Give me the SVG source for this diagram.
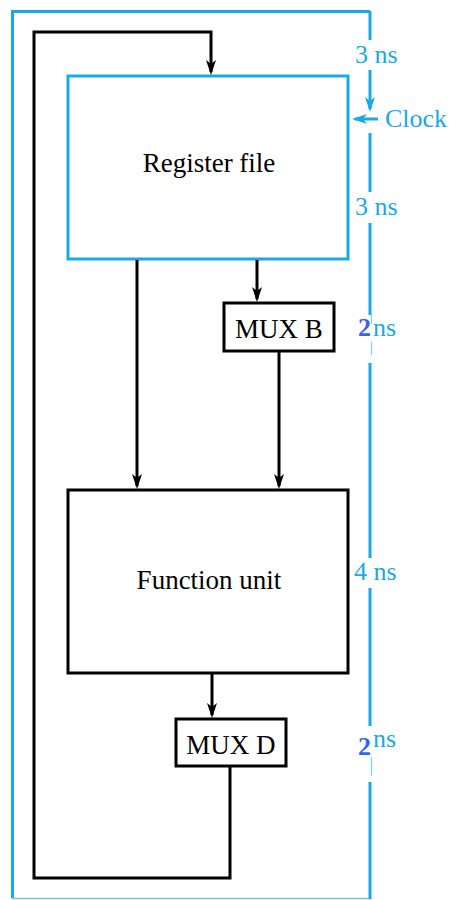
<svg xmlns="http://www.w3.org/2000/svg" width="450" height="900" viewBox="0 0 450 900">
  <style>
    .lbl { font-family: "Liberation Serif", "Times New Roman", serif; font-size: 27px; fill: #000; text-anchor: middle; }
    .t { font-family: "Liberation Serif", "Times New Roman", serif; font-size: 26px; fill: #1aa9e6; }
    .b2 { font-family: "Liberation Serif", "Times New Roman", serif; font-size: 26px; font-weight: bold; fill: #3563f2; }
    .cy { stroke: #1aa9e6; stroke-width: 3; fill: none; }
    .cythin { stroke: #7fd0f2; stroke-width: 1.2; fill: none; }
    .wire { stroke: #000; stroke-width: 3; fill: none; }
  </style>
  <defs>
    <marker id="ah" viewBox="-13 -6 16 12" markerWidth="16" markerHeight="12" refX="0" refY="0" orient="auto" markerUnits="userSpaceOnUse">
      <path d="M3,0 L-12,-5 L-8,0 L-12,5 Z" fill="#000"/>
    </marker>
    <marker id="ahc" viewBox="-13 -6 16 12" markerWidth="16" markerHeight="12" refX="0" refY="0" orient="auto" markerUnits="userSpaceOnUse">
      <path d="M3,0 L-12,-5 L-8,0 L-12,5 Z" fill="#1aa9e6"/>
    </marker>
  </defs>

  <g id="frame">
    <path class="cy" d="M370,11.5 H12.5 V898"/>
    <line x1="12" y1="898.5" x2="371" y2="898.5" stroke="#6cc6ee" stroke-width="1.5"/>
  </g>

  <g id="timing">
    <line class="cy" x1="370" y1="11" x2="370" y2="40"/>
    <line class="cy" x1="370" y1="70" x2="370" y2="109" marker-end="url(#ahc)"/>
    <line class="cy" x1="378" y1="119" x2="355" y2="119" stroke-width="2" marker-end="url(#ahc)"/>
    <line class="cy" x1="370" y1="133" x2="370" y2="192"/>
    <line class="cy" x1="370" y1="223" x2="370" y2="315"/>
    <line class="cythin" x1="371.5" y1="315" x2="371.5" y2="324"/>
    <line class="cythin" x1="371.5" y1="342" x2="371.5" y2="355"/>
    <line class="cy" x1="370" y1="363" x2="370" y2="558"/>
    <line class="cy" x1="370" y1="588" x2="370" y2="726"/>
    <line class="cythin" x1="371.5" y1="757" x2="371.5" y2="776"/>
    <line class="cy" x1="370" y1="782" x2="370" y2="899"/>
    <text class="t" x="355" y="63">3 ns</text>
    <text class="t" x="385" y="127">Clock</text>
    <text class="t" x="355" y="215">3 ns</text>
    <text class="b2" x="358" y="336">2</text>
    <text class="t" x="373" y="336">ns</text>
    <text class="t" x="354" y="580">4 ns</text>
    <text class="b2" x="358" y="755">2</text>
    <text class="t" x="373" y="747">ns</text>
  </g>

  <g id="register-file">
    <rect x="68" y="76" width="280" height="183" fill="none" stroke="#1aa9e6" stroke-width="3"/>
    <text class="lbl" x="209" y="172">Register file</text>
  </g>

  <g id="mux-b">
    <rect x="224" y="303" width="110" height="48" fill="#fff" stroke="#000" stroke-width="3"/>
    <text class="lbl" x="279" y="338">MUX B</text>
  </g>

  <g id="function-unit">
    <rect x="68" y="490" width="280" height="183" fill="none" stroke="#000" stroke-width="3"/>
    <text class="lbl" x="209" y="589">Function unit</text>
  </g>

  <g id="mux-d">
    <rect x="176" y="719" width="110" height="47" fill="#fff" stroke="#000" stroke-width="3"/>
    <text class="lbl" x="231" y="754">MUX D</text>
  </g>

  <g id="connectors">
    <path class="wire" d="M230,766 V878 H34 V32 H211 V72" marker-end="url(#ah)"/>
    <path class="wire" d="M137,260 V486" marker-end="url(#ah)"/>
    <path class="wire" d="M257,260 V299" marker-end="url(#ah)"/>
    <path class="wire" d="M279,351 V486" marker-end="url(#ah)"/>
    <path class="wire" d="M212,673 V715" marker-end="url(#ah)"/>
  </g>
</svg>
